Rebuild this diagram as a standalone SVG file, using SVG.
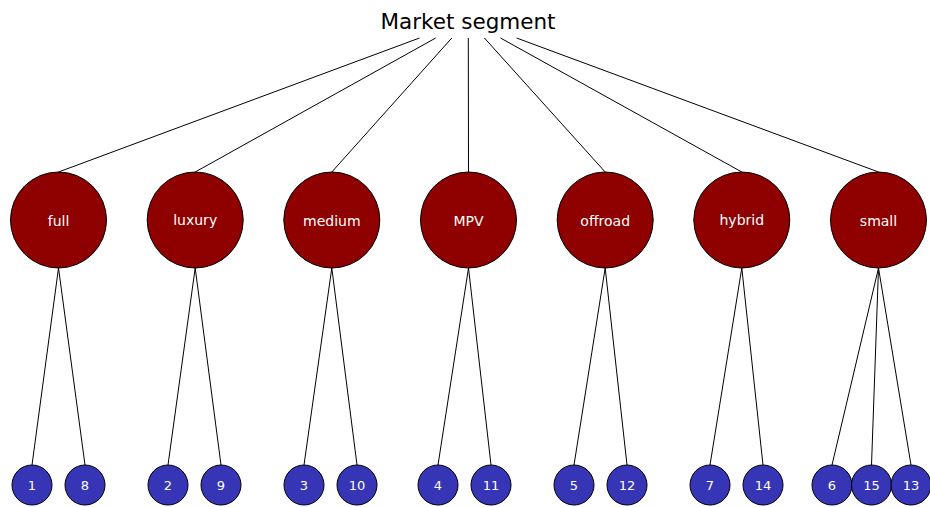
<svg xmlns="http://www.w3.org/2000/svg" width="930" height="507" viewBox="0 0 930 507">
<style>
.e{stroke:#000;stroke-width:1;fill:none}
.r{fill:#8f0000;stroke:#000;stroke-width:1}
.b{fill:#3535b5;stroke:#000;stroke-width:1}
.t{font-family:"DejaVu Sans",sans-serif;fill:#fff;text-anchor:middle}
.rt{font-size:14px}
.bt{font-size:13px}
.title{font-family:"DejaVu Sans",sans-serif;font-size:21.5px;fill:#000;text-anchor:middle}
</style>
<rect width="930" height="507" fill="#fff"/>
<g id="edges">
<path class="e" d="M419.5,38L58.5,172M435.7,38L195.2,172M451.8,38L331.8,172M468.3,38L468.5,172M484.4,38L605.2,172M500.5,38L741.8,172M516.6,38L878.5,172"/>
<path class="e" d="M58.5,268L32,465M58.5,268L85,465M195.2,268L168,465M195.2,268L221,465M331.8,268L304,465M331.8,268L357,465M468.5,268L438,465M468.5,268L491,465M605.2,268L574,465M605.2,268L627,465M741.8,268L710,465M741.8,268L763,465M878.5,268L832,465M878.5,268L871.5,465M878.5,268L911,465"/>
</g>
<g id="root"><text class="title" x="468" y="28.5">Market segment</text></g>
<g id="n-full"><circle class="r" cx="58.5" cy="220" r="48"/><text class="t rt" x="58.5" y="225.5">full</text></g>
<g id="n-luxury"><circle class="r" cx="195.2" cy="220" r="48"/><text class="t rt" x="195.2" y="225">luxury</text></g>
<g id="n-medium"><circle class="r" cx="331.8" cy="220" r="48"/><text class="t rt" x="331.8" y="225.5">medium</text></g>
<g id="n-MPV"><circle class="r" cx="468.5" cy="220" r="48"/><text class="t rt" x="468.5" y="225.5">MPV</text></g>
<g id="n-offroad"><circle class="r" cx="605.2" cy="220" r="48"/><text class="t rt" x="605.2" y="225.5">offroad</text></g>
<g id="n-hybrid"><circle class="r" cx="741.8" cy="220" r="48"/><text class="t rt" x="741.8" y="225">hybrid</text></g>
<g id="n-small"><circle class="r" cx="878.5" cy="220" r="48"/><text class="t rt" x="878.5" y="225.5">small</text></g>
<g id="n1"><circle class="b" cx="32" cy="485" r="20"/><text class="t bt" x="32" y="490">1</text></g>
<g id="n8"><circle class="b" cx="85" cy="485" r="20"/><text class="t bt" x="85" y="490">8</text></g>
<g id="n2"><circle class="b" cx="168" cy="485" r="20"/><text class="t bt" x="168" y="490">2</text></g>
<g id="n9"><circle class="b" cx="221" cy="485" r="20"/><text class="t bt" x="221" y="490">9</text></g>
<g id="n3"><circle class="b" cx="304" cy="485" r="20"/><text class="t bt" x="304" y="490">3</text></g>
<g id="n10"><circle class="b" cx="357" cy="485" r="20"/><text class="t bt" x="357" y="490">10</text></g>
<g id="n4"><circle class="b" cx="438" cy="485" r="20"/><text class="t bt" x="438" y="490">4</text></g>
<g id="n11"><circle class="b" cx="491" cy="485" r="20"/><text class="t bt" x="491" y="490">11</text></g>
<g id="n5"><circle class="b" cx="574" cy="485" r="20"/><text class="t bt" x="574" y="490">5</text></g>
<g id="n12"><circle class="b" cx="627" cy="485" r="20"/><text class="t bt" x="627" y="490">12</text></g>
<g id="n7"><circle class="b" cx="710" cy="485" r="20"/><text class="t bt" x="710" y="490">7</text></g>
<g id="n14"><circle class="b" cx="763" cy="485" r="20"/><text class="t bt" x="763" y="490">14</text></g>
<g id="n6"><circle class="b" cx="832" cy="485" r="20"/><text class="t bt" x="832" y="490">6</text></g>
<g id="n15"><circle class="b" cx="871.5" cy="485" r="20"/><text class="t bt" x="871.5" y="490">15</text></g>
<g id="n13"><circle class="b" cx="911" cy="485" r="20"/><text class="t bt" x="911" y="490">13</text></g>
</svg>
